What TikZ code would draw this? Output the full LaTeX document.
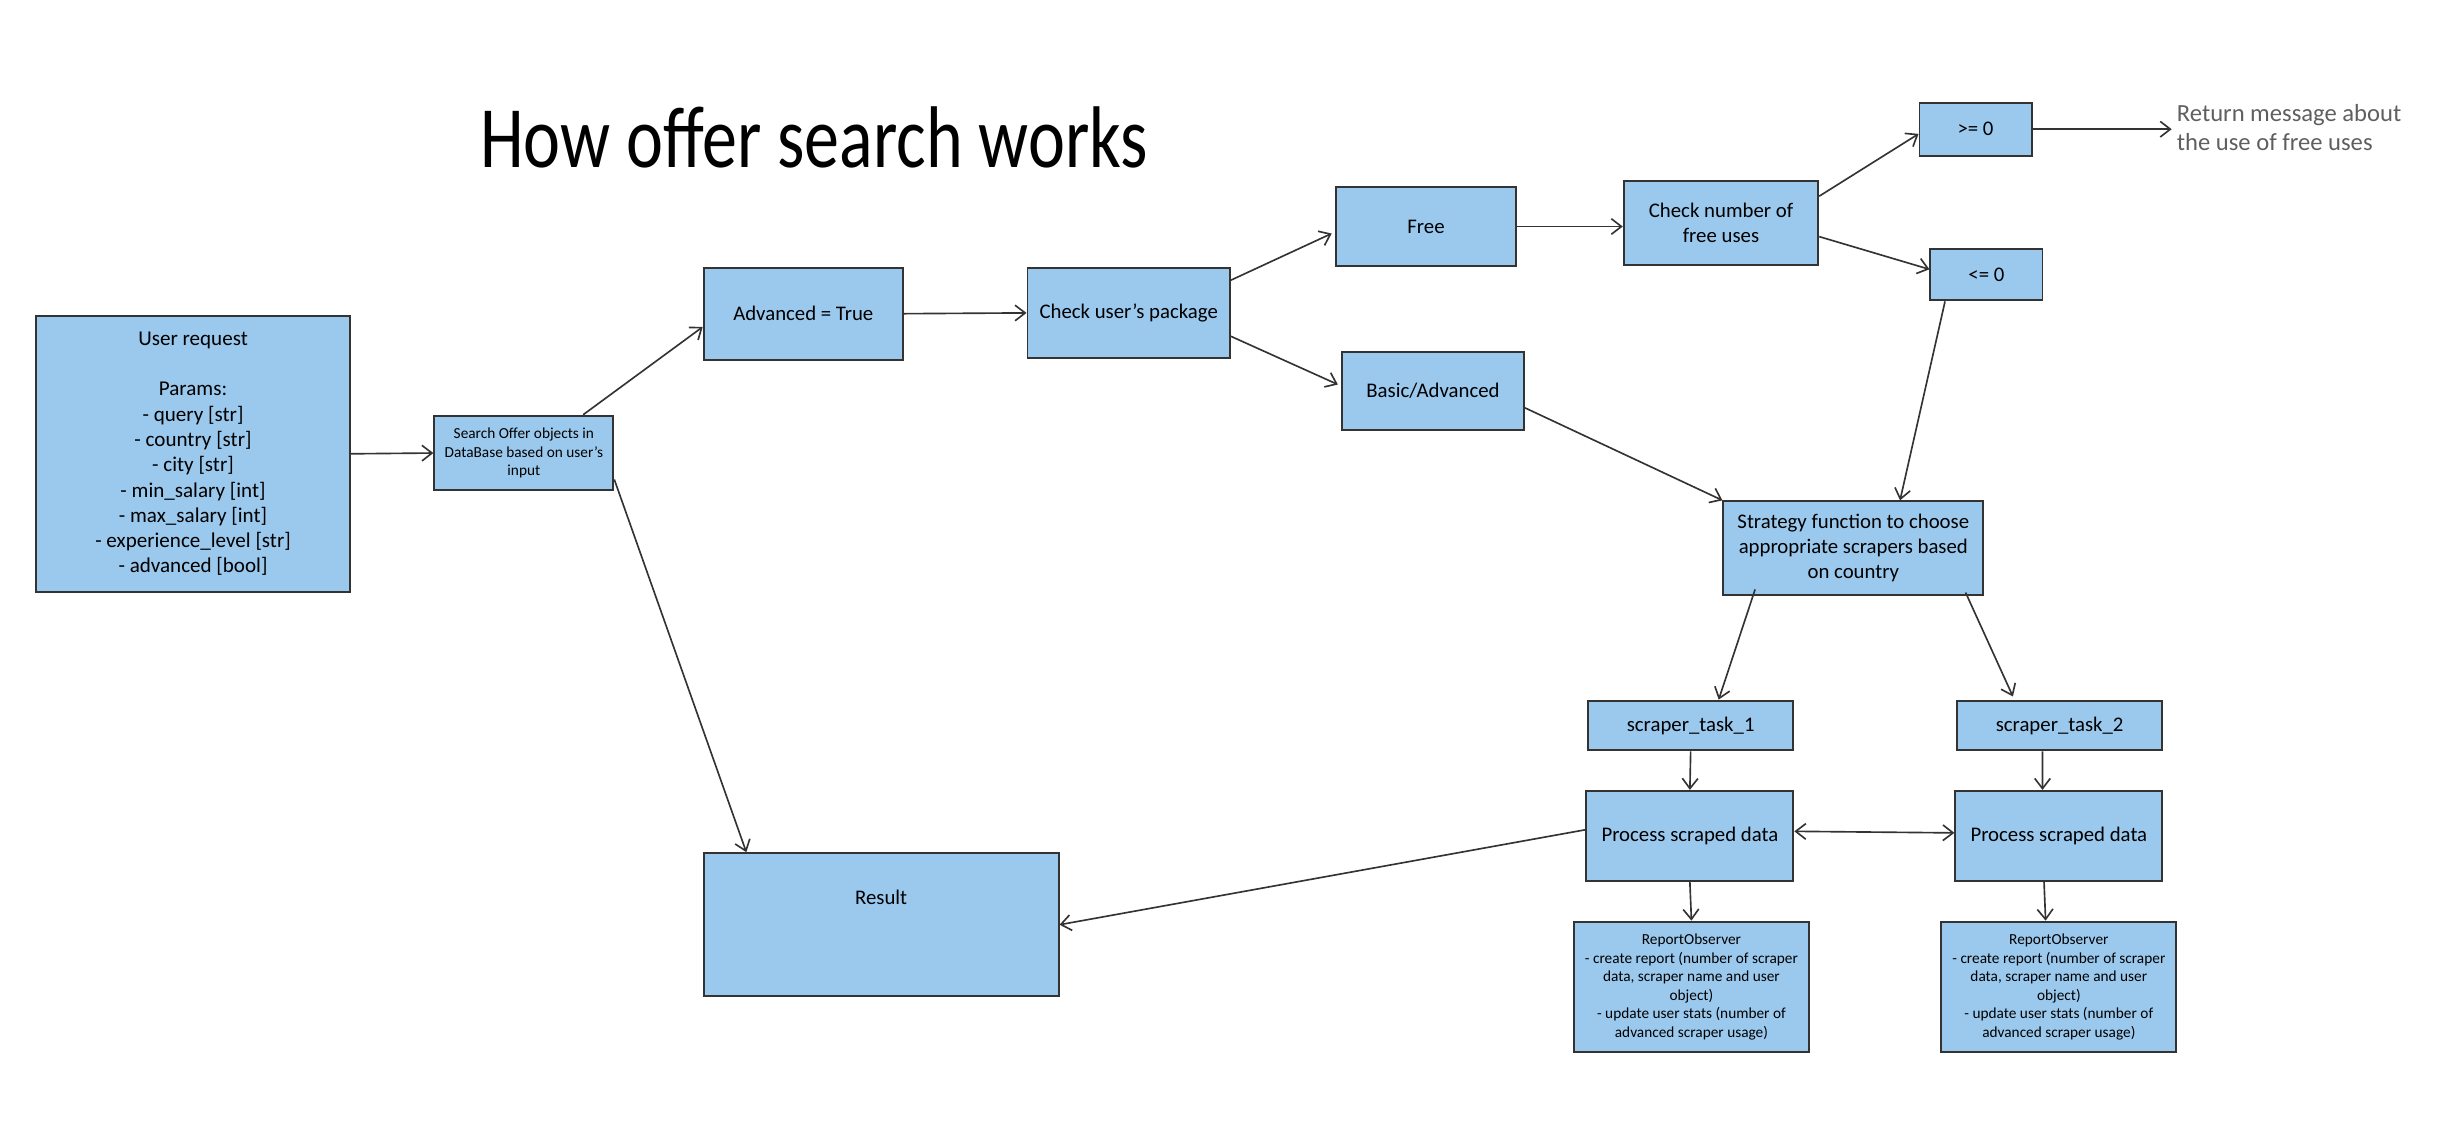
\documentclass[tikz,border=0pt]{standalone}
\usepackage{fontspec}
\setmainfont{Carlito}
\usetikzlibrary{arrows.meta}
\definecolor{boxblue}{RGB}{155,201,238}
\definecolor{linegray}{RGB}{51,51,51}
\definecolor{notegray}{RGB}{95,95,95}
\tikzset{
  box/.style={draw=linegray, fill=boxblue, line width=0.7pt, align=center, inner sep=1pt,
              font=\fontsize{7.6}{9.1}\selectfont},
  smallbox/.style={box, font=\fontsize{5.6}{6.8}\selectfont},
  arr/.style={draw=linegray, line width=0.6pt, -{Straight Barb[length=1.3mm, width=2mm]}},
  twoarr/.style={draw=linegray, line width=0.6pt, {Straight Barb[length=1.3mm, width=2mm]}-{Straight Barb[length=1.3mm, width=2mm]}},
}
\begin{document}
\begin{tikzpicture}[x=0.02cm, y=-0.02cm]
  \useasboundingbox (0,0) rectangle (1568,727);
  % title
  \node (title) at (523,88) {\fontsize{32}{38}\selectfont\scalebox{0.8}[1]{How offer search works}};
  % left part
  \node[box, minimum width=4.04cm, minimum height=3.54cm, font=\fontsize{7.7}{9.25}\selectfont] (req) at (124,291.5)
    {User request\\[9.25pt]Params:\\- query [str]\\- country [str]\\- city [str]\\- min\_salary [int]\\- max\_salary [int]\\- experience\_level [str]\\- advanced [bool]};
  \node[smallbox, minimum width=2.3cm, minimum height=0.96cm] (search) at (336.5,291)
    {Search Offer objects in\\DataBase based on user's\\input};
  \node[box, minimum width=2.56cm, minimum height=1.18cm] (adv) at (516,201.5) {Advanced = True};
  \node[box, minimum width=2.6cm, minimum height=1.16cm] (pkg) at (725,201) {Check user's package};
  \node[box, minimum width=4.56cm, minimum height=1.84cm, label={[anchor=north, yshift=-0.36cm, font=\fontsize{7.6}{9.1}\selectfont]north:Result}] (result) at (566,594) {};
  % package branches
  \node[box, minimum width=2.32cm, minimum height=1.02cm] (free) at (916,145.5) {Free};
  \node[box, minimum width=2.34cm, minimum height=1.0cm] (basic) at (920.5,251) {Basic/Advanced};
  \node[box, minimum width=2.5cm, minimum height=1.08cm] (checknum) at (1105.5,143) {Check number of\\free uses};
  \node[box, minimum width=1.44cm, minimum height=0.68cm] (ge) at (1269,83) {>= 0};
  \node[box, minimum width=1.44cm, minimum height=0.66cm] (le) at (1276,176.5) {<= 0};
  \node[anchor=west, align=left, inner sep=0pt, text=notegray, font=\fontsize{9}{10.8}\selectfont] (msg) at (1398,82)
    {Return message about\\the use of free uses};
  % scrapers
  \node[box, minimum width=3.34cm, minimum height=1.2cm] (strategy) at (1190.5,352)
    {Strategy function to choose\\appropriate scrapers based\\on country};
  \node[box, minimum width=2.64cm, minimum height=0.64cm] (task1) at (1086,466) {scraper\_task\_1};
  \node[box, minimum width=2.64cm, minimum height=0.64cm] (task2) at (1323,466) {scraper\_task\_2};
  \node[box, minimum width=2.66cm, minimum height=1.16cm] (proc1) at (1085.5,537) {Process scraped data};
  \node[box, minimum width=2.66cm, minimum height=1.16cm] (proc2) at (1322.5,537) {Process scraped data};
  \node[smallbox, minimum width=3.02cm, minimum height=1.68cm] (rep1) at (1086.5,634)
    {ReportObserver\\- create report (number of scraper\\data, scraper name and user\\object)\\- update user stats (number of\\advanced scraper usage)};
  \node[smallbox, minimum width=3.02cm, minimum height=1.68cm] (rep2) at (1322.5,634)
    {ReportObserver\\- create report (number of scraper\\data, scraper name and user\\object)\\- update user stats (number of\\advanced scraper usage)};
  % connectors
  \draw[arr] (req.east) -- (search.west);
  \draw[arr] ([xshift=-0.4cm]search.north east) -- ([yshift=-0.17cm]adv.west);
  \draw[arr] ([yshift=-0.34cm]search.east) -- ([xshift=0.56cm]result.north west);
  \draw[arr] (adv.east) -- (pkg.west);
  \draw[arr] ([yshift=0.42cm]pkg.east) -- ([yshift=-0.09cm, xshift=-0.04cm]free.west);
  \draw[arr] ([yshift=-0.3cm]pkg.east) -- ([yshift=0.08cm, xshift=-0.04cm]basic.west);
  \draw[arr] (free.east) -- (free.east -| checknum.west);
  \draw[arr] ([yshift=0.34cm]checknum.east) -- ([yshift=-0.06cm]ge.west);
  \draw[arr] ([yshift=-0.18cm]checknum.east) -- ([yshift=0.07cm]le.west);
  \draw[arr] (ge.east) -- ([xshift=-0.06cm]ge.east -| msg.west);
  \draw[arr] ([xshift=0.2cm]le.south west) -- ([xshift=0.6cm]strategy.north);
  \draw[arr] ([yshift=-0.22cm]basic.east) -- (strategy.north west);
  \draw[arr] ([xshift=0.42cm, yshift=0.08cm]strategy.south west) -- ([xshift=0.36cm]task1.north);
  \draw[arr] ([xshift=-0.24cm, yshift=0.04cm]strategy.south east) -- ([xshift=-0.6cm, yshift=0.04cm]task2.north);
  \draw[arr] (task1.south) -- (proc1.north);
  \draw[arr] ([xshift=-0.22cm]task2.south) -- ([xshift=-0.21cm]proc2.north);
  \draw[twoarr] ([yshift=0.06cm]proc1.east) -- ([yshift=0.04cm]proc2.west);
  \draw[arr] ([yshift=0.08cm]proc1.west) -- (result.east);
  \draw[arr] (proc1.south) -- (rep1.north);
  \draw[arr] ([xshift=-0.19cm]proc2.south) -- ([xshift=-0.17cm]rep2.north);
\end{tikzpicture}
\end{document}
